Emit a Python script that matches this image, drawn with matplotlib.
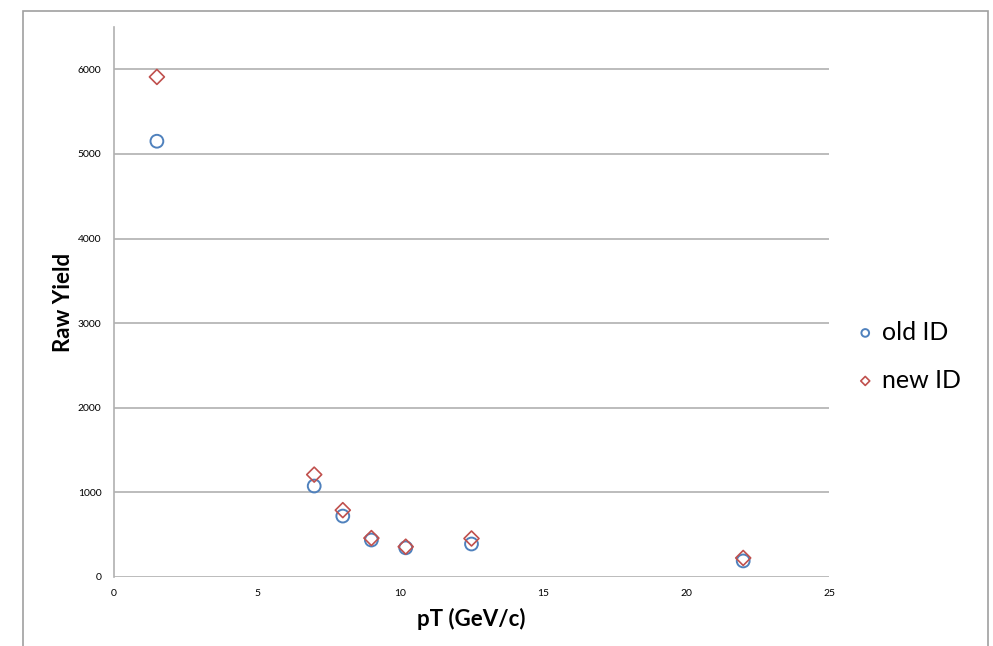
import matplotlib.pyplot as plt
from matplotlib.patches import Rectangle

plt.rcParams['font.family'] = ['Lato', 'DejaVu Sans']

# data
pt = [1.5, 7, 8, 9, 10.2, 12.5, 22]
old_id = [5150, 1075, 720, 437, 345, 390, 190]
new_id = [5910, 1210, 790, 460, 358, 455, 225]

x_ticks = [0, 5, 10, 15, 20, 25]
y_ticks = [0, 1000, 2000, 3000, 4000, 5000, 6000]

fig = plt.figure(figsize=(9.93, 6.46), dpi=100)

# outer chart frame
fig.patches.append(Rectangle((23 / 993, -0.05), 965 / 993, 1.05 - 11 / 646,
                             transform=fig.transFigure, fill=False,
                             edgecolor='#a0a0a0', linewidth=1.2))

ax = fig.add_axes([114 / 993, 1 - 577 / 646, 715 / 993, 550 / 646])

ax.scatter(pt, old_id, s=85, marker='o', facecolors='none',
           edgecolors='#4f81bd', linewidths=1.4, label='old ID', zorder=3)
ax.scatter(pt, new_id, s=58, marker='D', facecolors='none',
           edgecolors='#c0504d', linewidths=1.2, label='new ID', zorder=4)

ax.set_xlim(0, 25)
ax.set_ylim(0, 6500)
ax.set_xticks(x_ticks)
ax.set_yticks(y_ticks)
ax.tick_params(length=0, labelsize=7.5, pad=9)

for y in y_ticks:
    ax.axhline(y, color='#b0b0b0', linewidth=1.2, zorder=1)

for s in ['top', 'right', 'bottom']:
    ax.spines[s].set_visible(False)
ax.spines['left'].set_color('#b0b0b0')
ax.spines['left'].set_linewidth(1.2)

ax.set_xlabel('pT (GeV/c)', fontsize=16, fontweight='bold', labelpad=7)
ax.set_ylabel('Raw Yield', fontsize=16, fontweight='bold', labelpad=3)

leg = fig.legend(loc='center left', bbox_to_anchor=(834 / 993, 1 - 356 / 646),
                 frameon=False, fontsize=18, markerscale=0.6,
                 handlelength=0.7, handletextpad=0.3, labelspacing=1.0)

fig.savefig('out.png', dpi=100)
